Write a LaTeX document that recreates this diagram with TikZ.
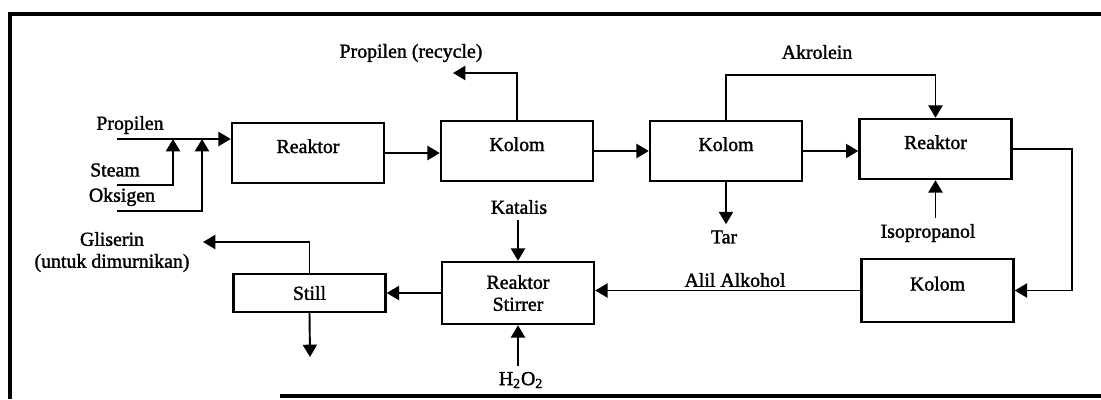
\documentclass[tikz,border=0pt]{standalone}
\usepackage{fontspec}
\setmainfont{Liberation Serif}
\newfontfamily\scanfont{Liberation Serif}[FakeBold=1.5]
\usetikzlibrary{positioning,arrows.meta}
\tikzset{
  flow/.style={-{Triangle[length=7pt,width=8pt]},line width=1.1pt},
  box/.style={draw,line width=1.4pt,minimum width=3.04cm,minimum height=1.2cm},
  unit/.style={box,text height=7pt,text depth=7pt}, % label sits above the middle
  frame/.style={line width=2.4pt},
}

\begin{document}
\begin{tikzpicture}[x=0.02cm,y=-0.02cm,font=\scanfont\fontsize{11.3}{12.5}\selectfont]
  \useasboundingbox (0,0) rectangle (1101,399);
  % frame
  \draw[frame] (1101,14) -- (10,14) -- (10,399);
  \draw[frame] (280,396) -- (1101,396);
  % process units
  \node[unit] (rea1) at (308,153) {Reaktor};
  \node[unit] (kol1) at (517,151) {Kolom};
  \node[unit] (kol2) at (726,151) {Kolom};
  \node[unit] (rea2) at (935.5,149) {Reaktor};
  \node[unit,minimum height=1.26cm] (kol3) at (937.5,290.5) {Kolom};
  \node[box,align=center,minimum height=1.24cm] (stir) at (518,293) {Reaktor\\Stirrer};
  \node[box,minimum height=0.76cm] (still) at (309.5,293) {Still};
  % stream labels
  \node (prop) at (130,125) {Propilen};
  \node (steam) at (115,170) {Steam};
  \node (oks) at (122,197) {Oksigen};
  \node (recy) at (411,53) {Propilen (recycle)};
  \node (akr) at (817,52) {Akrolein};
  \node (kat) at (519,207) {Katalis};
  \node (tar) at (724,237) {Tar};
  \node (iso) at (928,233) {Isopropanol};
  \node (alil) at (735,280) {Alil Alkohol};
  \node[align=center] (glis) at (112,252) {Gliserin\\(untuk dimurnikan)};
  \node (h2o2) at (521,380) {H\textsubscript{2}O\textsubscript{2}};
  % free ends and bends
  \coordinate (pin) at (117,139);
  \coordinate (sin) at (117,185);
  \coordinate (oin) at (117,211);
  \coordinate (sj) at (173,139);
  \coordinate (oj) at (202,139);
  \coordinate (recout) at (453,73);
  \coordinate (akrtop) at (830,75);
  \coordinate (rbend) at (1072,149);
  \coordinate (glout) at (203,242);
  \coordinate (botout) at (310,357);
  % feeds
  \draw[flow] (pin) -- (pin -| rea1.west);
  \draw[flow] (sin) -| (sj);
  \draw[flow] (oin) -| (oj);
  % main line
  \draw[flow] (rea1.east) -- (rea1.east -| kol1.west);
  \draw[flow] (kol1.east) -- (kol2.west);
  \draw[flow] (kol2.east) -- (kol2.east -| rea2.west);
  \draw[flow] (kol1.north) |- (recout);
  \draw[flow] (kol2.north) |- (akrtop) -| (rea2.north);
  \draw[flow] (kol2.south) -- (kol2.south |- tar.north);
  \draw[flow] (iso.north -| rea2.south) -- (rea2.south);
  \draw[flow] (rea2.east) -- (rbend) |- (kol3.east);
  \draw[flow] (kol3.west) -- (kol3.west -| stir.east);
  \draw[flow] (kat.south -| stir.north) -- (stir.north);
  \draw[flow] (h2o2.north -| stir.south) -- (stir.south);
  \draw[flow] (stir.west) -- (still.east);
  \draw[flow] (still.north) |- (glout);
  \draw[flow] (still.south) -- (botout);
\end{tikzpicture}
\end{document}
